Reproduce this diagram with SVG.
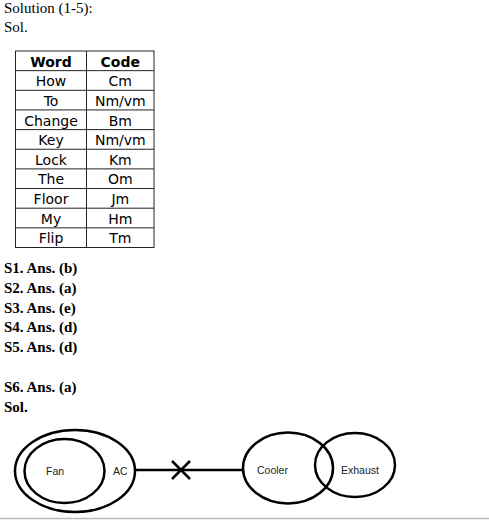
<svg xmlns="http://www.w3.org/2000/svg" width="489" height="528" viewBox="0 0 489 528">
<style>
.t{font-family:"Liberation Serif","Times New Roman",serif;font-size:15px;fill:#000}
.b{font-weight:bold}
.tb{font-family:"DejaVu Sans",Verdana,sans-serif;font-size:14px;fill:#000;text-anchor:middle}
.th{font-weight:bold}
.grid{stroke:#222;stroke-width:1;fill:none}
.shape{fill:none;stroke:#000;stroke-width:2.5}
.lbl{font-family:"Liberation Sans",Arial,sans-serif;font-size:10.5px;fill:#222}
</style>
<rect width="489" height="528" fill="#fff"/>
<text class="t" x="4" y="13">Solution (1-5):</text>
<text class="t" x="4" y="32">Sol.</text>
<g id="table">
<rect class="grid" x="15.5" y="51" width="138.5" height="196.5"/>
<line class="grid" x1="86.5" y1="51" x2="86.5" y2="247.5"/>
<path class="grid" d="M15.5 70.65H154M15.5 90.3H154M15.5 109.95H154M15.5 129.6H154M15.5 149.25H154M15.5 168.9H154M15.5 188.55H154M15.5 208.2H154M15.5 227.85H154"/>
<text class="tb th" x="51" y="66.5">Word</text><text class="tb th" x="120.3" y="66.5">Code</text>
<text class="tb" x="51" y="86.2">How</text><text class="tb" x="120.3" y="86.2">Cm</text>
<text class="tb" x="51" y="105.8">To</text><text class="tb" x="120.3" y="105.8">Nm/vm</text>
<text class="tb" x="51" y="125.5">Change</text><text class="tb" x="120.3" y="125.5">Bm</text>
<text class="tb" x="51" y="145.1">Key</text><text class="tb" x="120.3" y="145.1">Nm/vm</text>
<text class="tb" x="51" y="164.8">Lock</text><text class="tb" x="120.3" y="164.8">Km</text>
<text class="tb" x="51" y="184.4">The</text><text class="tb" x="120.3" y="184.4">Om</text>
<text class="tb" x="51" y="204.1">Floor</text><text class="tb" x="120.3" y="204.1">Jm</text>
<text class="tb" x="51" y="223.7">My</text><text class="tb" x="120.3" y="223.7">Hm</text>
<text class="tb" x="51" y="243.4">Flip</text><text class="tb" x="120.3" y="243.4">Tm</text>
</g>
<text class="t b" x="4" y="273.3">S1. Ans. (b)</text>
<text class="t b" x="4" y="292.9">S2. Ans. (a)</text>
<text class="t b" x="4" y="312.5">S3. Ans. (e)</text>
<text class="t b" x="4" y="332.1">S4. Ans. (d)</text>
<text class="t b" x="4" y="351.7">S5. Ans. (d)</text>
<text class="t b" x="4" y="391.7">S6. Ans. (a)</text>
<text class="t b" x="4" y="411.5">Sol.</text>
<g id="connectors">
<line class="shape" x1="135" y1="470" x2="244" y2="470"/>
<path class="shape" d="M172 461L190 479M190 461L172 479"/>
</g>
<g id="ac"><ellipse class="shape" cx="75" cy="471" rx="60" ry="41"/><text class="lbl" x="113" y="474.5">AC</text></g>
<g id="fan"><ellipse class="shape" cx="64.5" cy="471" rx="40" ry="32"/><text class="lbl" x="46" y="474.5">Fan</text></g>
<g id="cooler"><ellipse class="shape" cx="288" cy="468" rx="45" ry="35.5"/><text class="lbl" x="257" y="474">Cooler</text></g>
<g id="exhaust"><ellipse class="shape" cx="355" cy="465" rx="40" ry="32"/><text class="lbl" x="341" y="474">Exhaust</text></g>
<line x1="0" y1="518.5" x2="489" y2="518.5" stroke="#bbb" stroke-width="1.5"/>
</svg>
